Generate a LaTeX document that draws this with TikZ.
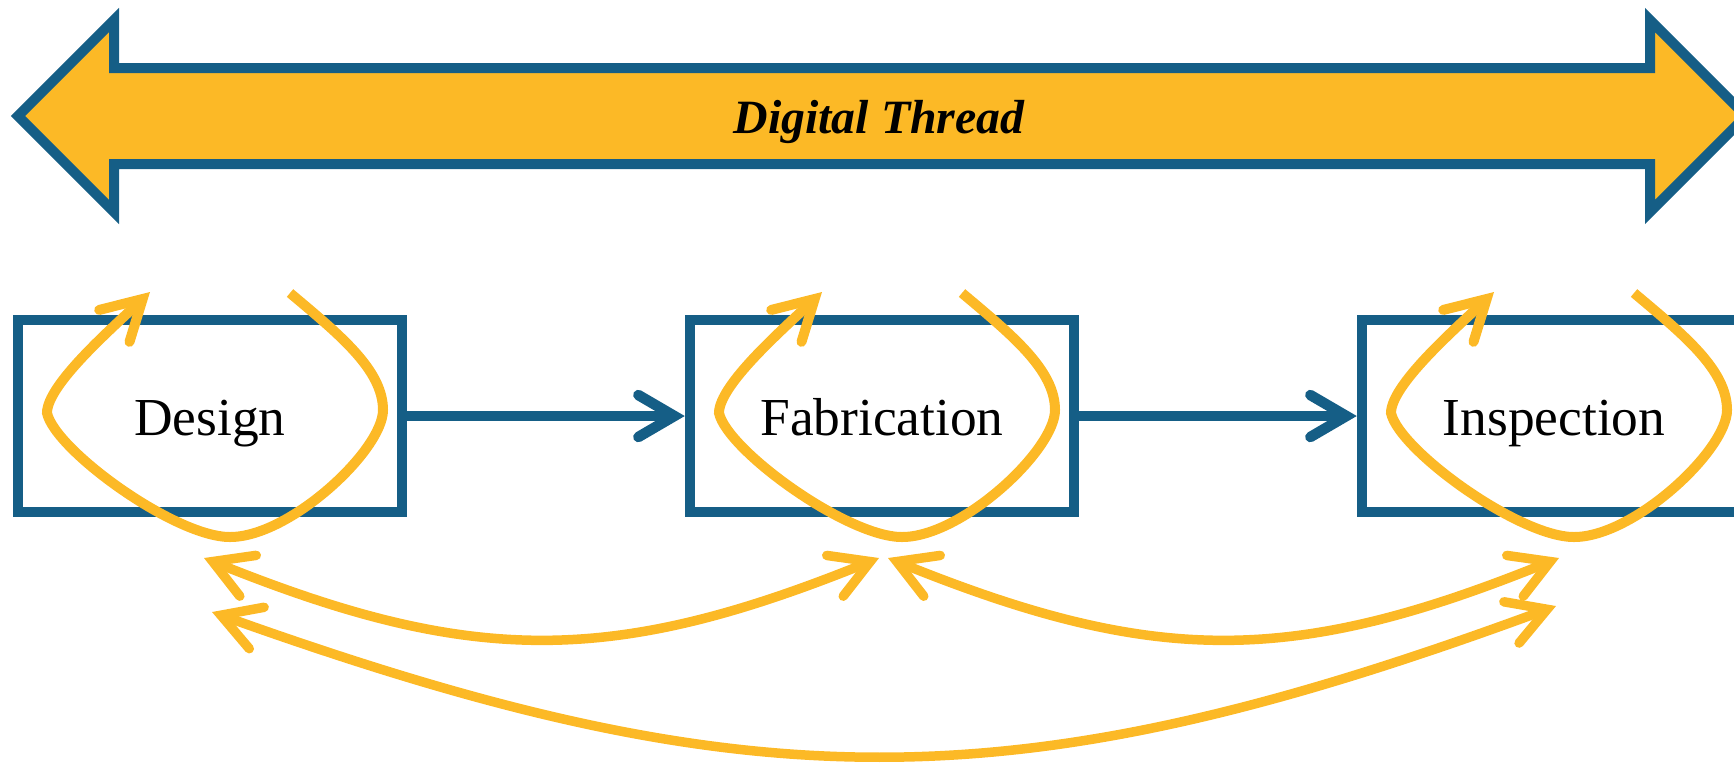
\documentclass[tikz,border=0pt]{standalone}
\usepackage{fontspec}
\setmainfont{Liberation Serif}
\usetikzlibrary{arrows.meta}
\definecolor{threadblue}{RGB}{21,94,134}
\definecolor{threadgold}{RGB}{252,185,38}
\tikzset{
  stage/.style={draw=threadblue, line width=1.05mm, minimum width=38.4mm, minimum height=19.2mm,
    inner sep=0pt, text height=5mm, text depth=1.2mm,
    font=\fontsize{15.2pt}{18pt}\selectfont},
  flow/.style={draw=threadblue, line width=1.05mm,
    -{Straight Barb[length=3.6mm, width=4.2mm, line cap=round]}},
  feedback/.style={draw=threadgold, line width=0.95mm, {Straight Barb[length=3.8mm, width=4.4mm, line cap=round]}-{Straight Barb[length=3.8mm, width=4.4mm, line cap=round]}},
  iterate/.style={draw=threadgold, line width=1mm,
    -{Straight Barb[length=3.9mm, width=4.4mm, line cap=round]}},
}
\begin{document}
\begin{tikzpicture}[x=0.1mm, y=-0.1mm]
  \useasboundingbox (0,0) rectangle (1734,763);
  \clip (0,0) rectangle (1734,763);

  % digital thread banner
  \draw[threadblue, fill=threadgold, line width=1mm, line join=miter]
    (18,116) -- (114,20) -- (114,68) -- (1650,68) -- (1650,20) -- (1746,116)
    -- (1650,212) -- (1650,164) -- (114,164) -- (114,212) -- cycle;
  \node[anchor=base, inner sep=0pt, font=\fontsize{13.6pt}{16pt}\selectfont\bfseries\itshape]
    (thread) at (879,133) {Digital Thread};

  % process stages
  \node[stage] (design) at (210,416) {Design};
  \node[stage] (fab)    at (882,416) {Fabrication};
  \node[stage] (insp)   at (1554,416) {Inspection};

  \draw[flow] (design.east) -- (fab.west);
  \draw[flow] (fab.east) -- (insp.west);

  % iteration loop around each stage
  \foreach \n in {design,fab,insp}{
    \begin{scope}[shift={(\n.center)}]
      \draw[iterate] (80,-123) .. controls (130,-81) and (173,-46) .. (173,-6)
        .. controls (173,34) and (80,121) .. (20,121)
        .. controls (-35,121) and (-155,34) .. (-163,-3)
        .. controls (-163,-31) and (-100,-86) .. (-60,-124);
    \end{scope}
  }

  % feedback between stages
  \coordinate (dA) at (204,558);
  \coordinate (fA) at (879,558);
  \coordinate (fB) at (888,558);
  \coordinate (iA) at (1559,558);
  \coordinate (dB) at (212,612);
  \coordinate (iB) at (1556,606);

  \draw[feedback] (dA) .. controls (472,666) and (612,666) .. (fA);
  \draw[feedback] (fB) .. controls (1155,666) and (1292,666) .. (iA);
  \draw[feedback] (dB) .. controls (752,805) and (1016,805) .. (iB);
\end{tikzpicture}
\end{document}
